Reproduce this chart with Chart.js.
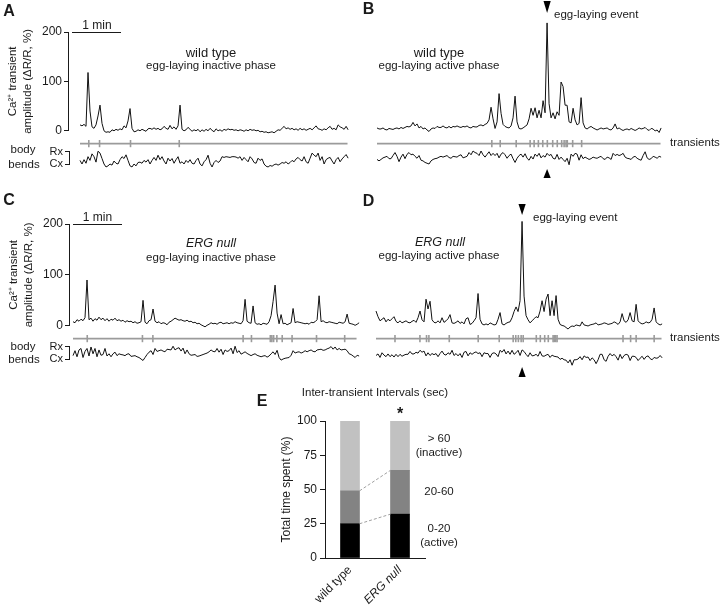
<!DOCTYPE html>
<html><head><meta charset="utf-8">
<script src="https://cdn.jsdelivr.net/npm/chart.js@4.4.1/dist/chart.umd.min.js"></script>
<style>
html,body{margin:0;padding:0;background:#fff;}
#stage{position:relative;width:720px;height:608px;overflow:hidden;background:#fff;font-family:"Liberation Sans",Arial,Helvetica,sans-serif;color:#1a1a1a;}
#stage canvas{position:absolute;}
.t{position:absolute;white-space:nowrap;line-height:1;}
</style></head><body><div id="stage"></div>
<script>
// ---------- DATA ----------
// Ca2+ transient amplitude (dR/R, %) sampled every SAMPLE_SEC seconds
const caA = [12,10,13,9,118,40,8,5,12,30, 52,15,0,-3,-2,-3,2,0,3,1, 4,2,10,6,20,45,5,-2,-1,2, 0,3,1,-1,4,5,3,6,3,5, 2,4,9,5,3,11,4,8,3,10,
 52,3,0,2,7,3,-1,2,0,3, -2,2,-1,3,0,5,1,-2,4,0, 2,-1,3,1,4,2,3,1,2,0, 2,1,-1,2,0,3,1,2,0,1, -2,-1,-3,-2,-4,-3,-2,-4,-1,2,
 1,5,9,4,6,3,5,2,4,1, 5,2,4,1,3,5,2,6,10,4, 3,1,4,2,6,9,3,5,2,12, 8,6,3,9,2];
const caB = [10,8,8,10,7,6,9,8,7,9, 10,8,11,9,11,13,12,14,21,14, 18,10,13,8,10,6,3,8,10,9, 13,11,11,14,11,10,13,10,13,12, 14,12,11,13,12,14,11,10,13,12,
 12,15,16,14,17,19,26,51,28,9, 22,78,39,17,13,11,10,14,30,73, 22,9,8,10,13,16,28,49,35,50, 30,45,30,64,40,218,58,30,40,28, 42,35,101,92,55,55,22,20,49,26,
 16,19,70,20,10,8,11,13,10,8, 6,8,10,8,9,10,7,6,10,18, 8,10,7,5,7,8,6,9,7,5, 7,10,8,9,11,7,5,9,8,4, 6,1,10];
const caC = [8,6,12,9,13,10,16,90,12,15, 9,14,11,17,12,15,10,14,9,13, 11,15,10,12,9,11,7,10,8,9, 6,8,5,6,8,50,7,4,10,12, 33,9,6,8,4,6,5,2,7,9,
 12,15,13,11,12,10,9,11,8,9, 6,7,4,5,2,0,-2,1,3,6, 4,5,3,6,7,4,5,6,4,6, 5,8,6,5,4,10,52,9,6,5, 39,6,3,4,2,5,4,3,8,20,
 48,80,25,4,22,4,5,2,4,6, 34,6,8,7,6,5,4,5,3,7, 6,8,12,59,8,10,7,6,8,7, 6,5,4,7,6,5,8,23,5,4, 3,1,3,6];
const caD = [31,20,12,15,18,10,15,12,16,20, 11,8,12,8,10,12,9,8,11,13, 9,18,31,14,10,54,35,50,14,9, 8,12,8,18,9,12,16,24,8,7, 9,12,7,10,6,16,18,5,7,12,
 18,65,15,6,4,6,4,8,6,4, 5,15,28,6,4,7,9,10,18,30, 39,30,51,205,60,22,14,8,12,16, 20,18,31,51,30,54,64,22,51,22, 61,15,5,3,2,-1,-4,0,2,1,
 4,3,2,10,4,3,2,4,5,6, 8,4,5,6,8,7,5,6,7,10, 8,5,10,26,12,9,14,28,12,10, 44,12,8,6,7,10,8,9,15,37, 10,6,4,6];

// body bends (0 = Cx, 1 = Rx)
const bodyA = [0.29,0,0.35,0.06,0.59,0.29,0.82,0.59,0.15,1.03, 0.88,0.44,0,-0.24,-0.15,0,-0.09,0.24,0.06,0, 0.35,0.59,0.44,0.74,0.29,-0.15,-0.24,0,-0.15,0.12,
 0.15,0.06,0.29,0.15,0.35,0,0.29,0.53,0.29,0.71, 0.35,0.59,0.24,0,0.47,0.24,0.44,0.06,0.35,0.59, 0.06,0.18,0,0.29,0.12,0.35,0.06,0,0.29,0.47,
 0,-0.15,0.18,0.35,0.71,0.06,-0.24,0.12,0.29,0.12, 0.24,0.59,0.53,0.59,0.56,0.53,0.59,0.59,0.56,0.47, 0.59,0.29,0.53,0.35,0.18,0.59,0.41,0.12,0.06,0.47,
 0.29,0.41,0,-0.18,-0.24,-0.12,-0.18,-0.06,0,-0.09, 0,0.12,0.06,0.18,0,0.12,0.29,0.18,0.41,0.53, 0.35,0.24,0.59,0.18,0.06,0.47,0.88,0.71,0.59,0.88,
 0.29,0.59,0,0.35,0.47,0.53,0.24,0,0.35,0.53, 0.18,0.41,0.59,0.76,0.47];
const bodyB = [0.35,0.24,0.35,0.47,0.53,0.59,0.41,0.41,0.65,0.88, 0.59,0.18,0.53,0.76,0.41,0.74,0.88,0.71,0.76,0.59, 0.44,0.65,0.29,0.24,0.12,0.06,0,0.24,0.35,0.41,
 0.44,0.53,0.59,0.53,0.59,0.65,0.5,0.44,0.59,0.56, 0.53,0.65,0.71,0.47,0.53,0.59,0.88,0.71,1.0,0.88, 0.82,0.65,1.0,0.71,0.53,0.74,0.94,0.65,0.82,0.65,
 0.82,0.47,0.76,0.88,0.71,0.44,0.65,0.76,0.41,0.12, 0.44,0.65,0.76,0.53,0.79,0.44,0.29,0.59,0.38,0.76, 0.59,0.82,0.47,0.65,0.53,0.82,0.65,0.74,0.44,0.38,
 0.74,0.35,0.53,0.35,0.18,0.44,-0.06,0.76,0.59,0.82, 0.76,0.29,0.71,0.41,0.53,0.44,0.35,0.41,0.53,0.47, 0.44,0.53,0.59,0.41,0.35,0.53,0.47,0.35,0.82,0.65,
 0.74,0.65,0.71,0.82,0.53,0.44,0.41,0.35,0.53,0.59, 0.44,0.35,0.29,0.65,0.94,0.47,0.35,0.41,0.59,0.53, 0.44,0.59,0.53];
const bodyC = [0.27,0.67,0.18,0.73,0.85,0.12,0.61,0.85,0.24,0.97, 0.42,0.85,0.18,0.73,0.3,0.36,0.85,0.24,0.42,0.18, 0.42,0.55,0.27,0.42,0.36,0.33,0.27,0.39,0.42,0.21,
 0.24,0.27,0.18,0.12,0,-0.12,0.12,0.36,0.55,0.67, 0.36,0.85,0.61,0.67,0.73,0.64,0.58,0.79,0.76,0.73, 1.03,0.73,0.85,0.91,0.64,0.88,0.42,0.73,0.42,0.3,
 0.33,0.36,0.21,0.24,0.3,0.36,0.42,0.48,0.58,0.73, 0.61,0.58,0.85,0.55,0.79,0.36,0.73,0.61,0.67,0.88, 0.42,1.03,0.52,0.67,0.39,0.48,0.58,0.45,0.36,0.27,
 0.36,0.42,0.3,0.24,0.18,0.24,0.27,0.15,0.24,0.42, 0.58,0.36,0.7,0.12,-0.09,0,0.06,0.09,0.12,0.3, 0.67,0.48,0.55,0.58,0.48,0.55,0.67,0.58,0.67,0.73,
 0.61,0.58,0.73,0.76,0.79,0.7,0.73,0.82,0.88,1.0, 0.79,0.97,0.73,0.85,0.73,0.76,0.79,0.67,0.42,0.36, 0.24,0.12,0.3,0.24];
const bodyD = [0.27,0.39,0.12,0.48,0.3,0.18,0.39,0.18,0.33,0.15, 0.36,0.18,0.36,0.21,0.3,0.36,0.36,0.58,0.39,0.39, 0.52,0.45,0.67,0.52,0.61,0.24,0.48,0.27,0.42,0.33,
 0.42,0.18,0.42,0.61,0.36,0.3,0.48,0.36,0.67,0.27, 0.42,0.24,0.42,0.12,0.52,0.58,0.24,0.48,0.36,0.48, 0.55,0.42,0.48,0.18,0.48,0.42,0.42,0.12,0.42,0.48,
 0.39,0.18,0.67,0.52,0.73,0.39,0.61,0.36,0.67,0.36, 0.48,0.67,0.27,0.7,0.58,0.36,0.18,0.48,0.24,0.27, 0.36,0.21,0.58,0.24,0.21,0.3,0.36,0.12,0.3,0.21,
 0.18,0.15,-0.03,0.06,-0.06,-0.09,-0.3,-0.06,-0.48,-0.06, -0.06,0,0.18,-0.06,0.24,0.12,0.15,-0.12,0.09,-0.06, -0.36,-0.06,0.36,0.36,-0.06,-0.18,0.21,0.42,0.24,0.36,
 0.18,-0.09,0.36,0.03,0.27,0.36,0.3,-0.12,0.21,0.21, 0.12,-0.12,0.06,0.21,-0.03,0.18,0.24,0.03,-0.06,0.12, 0.06,0.09,0.27,0.09];

// detected transients (seconds)
const transA = [10.8, 24.0, 62.0, 121.8];
const transB = [140.9, 151.2, 170.8, 187.9, 192.8, 198.0, 203.4, 209.0, 215.6, 221.2, 226.6, 229.6, 232.0, 233.5, 240.1, 251.1];
const transC = [17.6, 85.8, 98.7, 210.2, 220.5, 243.8, 245.7, 247.9, 251.9, 258.5, 270.7, 300.9, 335.7];
const transD = [23.3, 53.9, 62.0, 64.9, 89.9, 125.4, 151.2, 168.3, 171.5, 174.7, 178.1, 180.6, 196.7, 201.6, 207.0, 211.4, 217.3, 218.8, 220.5, 222.2, 303.1, 312.4, 319.2, 341.3];
// egg-laying events (seconds)
const eggB = 208.3;
const eggD = 178.9;

// Panel E: inter-transient intervals, % of total time
const eCategories = ['wild type', 'ERG null'];
const eShort = [25, 32];   // 0-20 s (active)
const eMid   = [24, 32];   // 20-60 s
const eLong  = [51, 36];   // > 60 s (inactive)
const eSegLabels = [['0-20', '(active)'], ['20-60'], ['> 60', '(inactive)']];
const caTicks = [0, 100, 200];
const bodyTicks = [0, 1];
const bodyTickLabels = ['Cx', 'Rx'];
const eTicks = [0, 25, 50, 75, 100];

// ---------- LAYOUT / DRAWING ----------
const FONT = '"Liberation Sans", Arial, Helvetica, sans-serif';
const INK = '#1a1a1a';
Chart.defaults.font.family = FONT;
Chart.defaults.color = INK;
const stage = document.getElementById('stage');
const SAMPLE_SEC = 2.45;
const PX_PER_SEC = 49 / 60;
const toXY = vals => vals.map((v, i) => ({x: i * SAMPLE_SEC, y: v}));

function makeCanvas(left, top, width, height) {
  const cv = document.createElement('canvas');
  cv.width = width; cv.height = height;
  cv.style.left = left + 'px'; cv.style.top = top + 'px';
  cv.style.width = width + 'px'; cv.style.height = height + 'px';
  stage.appendChild(cv);
  return cv;
}

function stripChart(o) {
  const cv = makeCanvas(o.left, o.top, o.width, o.height);
  const axisW = o.yAxis ? o.axisW : 0;
  const xMin = -(o.traceStart - o.areaLeft) / PX_PER_SEC;
  const xMax = xMin + (o.areaRight - o.areaLeft) / PX_PER_SEC;
  const yOpts = Object.assign({type: 'linear', display: !!o.yAxis, min: o.yMin, max: o.yMax}, o.yAxis || {});
  yOpts.afterFit = s => { s.width = axisW; };
  return new Chart(cv, {
    type: 'line',
    data: {datasets: o.datasets},
    options: {
      responsive: false, animation: false, events: [], devicePixelRatio: 1,
      layout: {padding: {left: o.areaLeft - o.left - axisW, right: o.left + o.width - o.areaRight,
                         top: o.areaTop - o.top, bottom: o.top + o.height - o.areaBottom}},
      plugins: {legend: {display: false}, tooltip: {enabled: false}},
      scales: {x: {type: 'linear', display: false, min: xMin, max: xMax}, y: yOpts}
    },
    plugins: o.plugins || []
  });
}

const traceDS = vals => ({data: toXY(vals), borderColor: '#111', borderWidth: 1, pointRadius: 0, tension: 0, clip: false});
const transientDS = (times, n) => [
  {data: [{x: 0, y: 0}, {x: (n - 1) * SAMPLE_SEC, y: 0}], borderColor: '#9b9b9b', borderWidth: 1.6, pointRadius: 0, clip: false},
  {data: times.map(t => ({x: t, y: 0})), showLine: false, pointStyle: 'line', pointRotation: 90, pointRadius: 3.6,
   borderColor: '#9b9b9b', pointBorderColor: '#9b9b9b', pointBorderWidth: 1.6, clip: false}
];
const caAxis = () => ({
  position: 'left',
  afterBuildTicks: s => { s.ticks = caTicks.map(v => ({value: v})); },
  ticks: {autoSkip: false, font: {size: 12}, color: INK, padding: 2},
  grid: {drawOnChartArea: false, drawTicks: true, tickLength: 4, color: INK, lineWidth: 1},
  border: {display: true, color: INK, width: 1},
  title: {display: true, text: ['Ca²⁺ transient', 'amplitude (ΔR/R, %)'], color: INK,
          font: {size: 11.5, lineHeight: 1.3}, padding: {top: 1.5, bottom: 0}}
});
const bodyAxis = () => ({
  position: 'left',
  afterBuildTicks: s => { s.ticks = bodyTicks.map(v => ({value: v})); },
  ticks: {autoSkip: false, callback: (v, i) => bodyTickLabels[i], font: {size: 11}, color: INK, padding: 2},
  grid: {drawOnChartArea: false, drawTicks: true, tickLength: 4, color: INK, lineWidth: 1},
  border: {display: true, color: INK, width: 1}
});
const scaleBar = x0 => ({id: 'scalebar', afterDraw(ch) {
  const {ctx, scales: {x, y}} = ch;
  const w = x.getPixelForValue(60) - x.getPixelForValue(0);
  const py = Math.round(y.getPixelForValue(200)) + 0.5;
  ctx.save(); ctx.strokeStyle = INK; ctx.lineWidth = 1;
  ctx.beginPath(); ctx.moveTo(x0, py); ctx.lineTo(x0 + w, py); ctx.stroke(); ctx.restore();
}});
const arrowHead = (t, basePage, tipPage, canvasTop) => ({id: 'arrow', afterDraw(ch) {
  const {ctx} = ch;
  const x = ch.scales.x.getPixelForValue(t);
  const b = basePage - canvasTop, p = tipPage - canvasTop;
  ctx.save(); ctx.fillStyle = '#000';
  ctx.beginPath(); ctx.moveTo(x - 3.6, b); ctx.lineTo(x + 3.6, b); ctx.lineTo(x, p); ctx.closePath(); ctx.fill();
  ctx.restore();
}});

// Panel A
stripChart({left: 0, top: 0, width: 360, height: 140, areaTop: 32, areaBottom: 133, areaLeft: 68, areaRight: 355, traceStart: 80,
  yMin: 0, yMax: 200, yAxis: caAxis(), axisW: 64, datasets: [traceDS(caA)], plugins: [scaleBar(72)]});
stripChart({left: 0, top: 138, width: 360, height: 10, areaTop: 138, areaBottom: 148, areaLeft: 80, areaRight: 355, traceStart: 80,
  yMin: -1, yMax: 1, datasets: transientDS(transA, caA.length)});
stripChart({left: 0, top: 143, width: 360, height: 37, areaTop: 151, areaBottom: 164, areaLeft: 69, areaRight: 355, traceStart: 80,
  yMin: 0, yMax: 1, yAxis: bodyAxis(), axisW: 40, datasets: [traceDS(bodyA)]});
// Panel B
stripChart({left: 360, top: 0, width: 310, height: 140, areaTop: 32, areaBottom: 133, areaLeft: 377, areaRight: 665, traceStart: 377,
  yMin: 0, yMax: 200, datasets: [traceDS(caB)], plugins: [arrowHead(eggB, 1, 13, 0)]});
stripChart({left: 360, top: 138, width: 310, height: 10, areaTop: 138, areaBottom: 148, areaLeft: 377, areaRight: 665, traceStart: 377,
  yMin: -1, yMax: 1, datasets: transientDS(transB, caB.length)});
stripChart({left: 360, top: 146, width: 310, height: 40, areaTop: 151, areaBottom: 164, areaLeft: 377, areaRight: 665, traceStart: 377,
  yMin: 0, yMax: 1, datasets: [traceDS(bodyB)], plugins: [arrowHead(eggB, 178, 169, 146)]});
// Panel C
stripChart({left: 0, top: 195, width: 365, height: 140, areaTop: 224, areaBottom: 327, areaLeft: 69, areaRight: 362, traceStart: 73,
  yMin: 0, yMax: 200, yAxis: caAxis(), axisW: 64, datasets: [traceDS(caC)], plugins: [scaleBar(73)]});
stripChart({left: 0, top: 333, width: 365, height: 10, areaTop: 333, areaBottom: 343, areaLeft: 73, areaRight: 362, traceStart: 73,
  yMin: -1, yMax: 1, datasets: transientDS(transC, caC.length)});
stripChart({left: 0, top: 338, width: 365, height: 33, areaTop: 346, areaBottom: 359, areaLeft: 69, areaRight: 362, traceStart: 73,
  yMin: 0, yMax: 1, yAxis: bodyAxis(), axisW: 40, datasets: [traceDS(bodyC)]});
// Panel D
stripChart({left: 365, top: 195, width: 305, height: 140, areaTop: 224, areaBottom: 327, areaLeft: 376, areaRight: 665, traceStart: 376,
  yMin: 0, yMax: 200, datasets: [traceDS(caD)], plugins: [arrowHead(eggD, 204, 215, 195)]});
stripChart({left: 365, top: 333, width: 305, height: 10, areaTop: 333, areaBottom: 343, areaLeft: 376, areaRight: 665, traceStart: 376,
  yMin: -1, yMax: 1, datasets: transientDS(transD, caD.length)});
stripChart({left: 365, top: 341, width: 305, height: 40, areaTop: 346, areaBottom: 359, areaLeft: 376, areaRight: 665, traceStart: 376,
  yMin: 0, yMax: 1, datasets: [traceDS(bodyD)], plugins: [arrowHead(eggD, 377, 367, 341)]});

// Panel E
(function () {
  const L = 250, TOP = 400, W = 230, H = 208;
  const cv = makeCanvas(L, TOP, W, H);
  const connectors = {id: 'connectors', afterDatasetsDraw(ch) {
    const {ctx} = ch;
    ctx.save(); ctx.strokeStyle = '#a0a0a0'; ctx.lineWidth = 1; ctx.setLineDash([3, 2]);
    for (let d = 0; d < 2; d++) {
      const m = ch.getDatasetMeta(d).data;
      const a = m[0], b = m[1];
      ctx.beginPath(); ctx.moveTo(a.x + a.width / 2, a.y); ctx.lineTo(b.x - b.width / 2, b.y); ctx.stroke();
    }
    ctx.restore();
  }};
  const segLabels = {id: 'seglabels', afterDraw(ch) {
    const {ctx} = ch;
    ctx.save(); ctx.fillStyle = INK; ctx.font = '11.5px ' + FONT; ctx.textAlign = 'center'; ctx.textBaseline = 'middle';
    for (let d = 0; d < 3; d++) {
      const el = ch.getDatasetMeta(d).data[1];
      const cy = (el.y + el.base) / 2;
      const lines = eSegLabels[d];
      const x = el.x + 39;
      lines.forEach((s, k) => ctx.fillText(s, x, cy + (k - (lines.length - 1) / 2) * 14));
    }
    const top = ch.getDatasetMeta(2).data[1];
    ctx.font = 'bold 16px ' + FONT;
    ctx.fillText('*', top.x, top.y - 6);
    ctx.restore();
  }};
  new Chart(cv, {
    type: 'bar',
    data: {labels: eCategories, datasets: [
      {data: eShort, backgroundColor: '#000000', barThickness: 19},
      {data: eMid, backgroundColor: '#838383', barThickness: 19},
      {data: eLong, backgroundColor: '#c1c1c1', barThickness: 19}
    ]},
    options: {
      responsive: false, animation: false, events: [], devicePixelRatio: 1,
      layout: {padding: {left: 325 - L - 50, top: 421 - TOP, right: L + W - 425, bottom: 0}},
      plugins: {legend: {display: false}, tooltip: {enabled: false}},
      scales: {
        x: {stacked: true, grid: {display: false, drawTicks: false}, border: {display: true, color: INK, width: 1},
            ticks: {autoSkip: false, minRotation: 45, maxRotation: 45, padding: 5, color: INK,
                    font: c => ({size: 12, family: FONT, style: c.index === 1 ? 'italic' : 'normal'})},
            afterFit: s => { s.height = H - (558 - TOP); }},
        y: {stacked: true, min: 0, max: 100,
            afterBuildTicks: s => { s.ticks = eTicks.map(v => ({value: v})); },
            ticks: {autoSkip: false, font: {size: 12}, color: INK, padding: 3},
            grid: {drawOnChartArea: false, drawTicks: true, tickLength: 5, color: INK},
            border: {display: true, color: INK, width: 1},
            title: {display: true, text: 'Total time spent (%)', color: INK, font: {size: 12, lineHeight: 1.2}, padding: {top: 4, bottom: 0}},
            afterFit: s => { s.width = 50; }}
      }
    },
    plugins: [connectors, segLabels]
  });
})();

// ---------- TEXT ----------
function txt(s, x, y, o) {
  o = o || {};
  const d = document.createElement('div');
  d.className = 't';
  d.textContent = s;
  d.style.left = x + 'px'; d.style.top = y + 'px';
  d.style.fontSize = (o.size || 11.5) + 'px';
  if (o.b) d.style.fontWeight = 'bold';
  if (o.i) d.style.fontStyle = 'italic';
  d.style.transform = o.left ? 'translate(0,-50%)' : 'translate(-50%,-50%)';
  stage.appendChild(d);
}
const P = {size: 16, b: 1};
txt('A', 9, 11, P); txt('B', 368.5, 8.5, P); txt('C', 9, 200, P); txt('D', 368.5, 201, P); txt('E', 262, 401, P);
txt('1 min', 97, 24.5, {size: 12}); txt('1 min', 97.5, 216.5, {size: 12});
txt('wild type', 211, 52, {size: 13}); txt('egg-laying inactive phase', 211, 65.5);
txt('wild type', 439, 52, {size: 13}); txt('egg-laying active phase', 439, 65.5);
txt('ERG null', 211, 243, {size: 12.5, i: 1}); txt('egg-laying inactive phase', 211, 257.5);
txt('ERG null', 440, 242, {size: 12.5, i: 1}); txt('egg-laying active phase', 439, 256);
txt('egg-laying event', 554, 15, {left: 1}); txt('egg-laying event', 533, 218, {left: 1});
txt('transients', 670, 143, {left: 1, size: 11.5}); txt('transients', 670, 338, {left: 1, size: 11.5});
txt('body', 23, 150); txt('bends', 24, 165); txt('body', 23, 347); txt('bends', 24, 360);
txt('Inter-transient Intervals (sec)', 375, 393);
</script></body></html>
